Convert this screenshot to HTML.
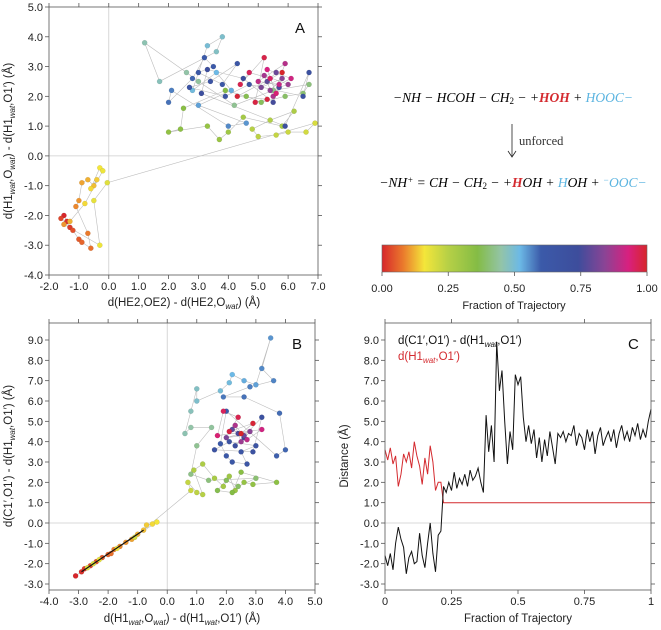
<!DOCTYPE html>
<html><head><meta charset="utf-8"><style>
body{margin:0;background:#fff}
svg{display:block;font-family:"Liberation Sans",sans-serif}
.eq{font-family:"Liberation Serif",serif;font-style:italic;font-size:13.5px}
</style></head><body>
<svg id="fig" width="661" height="630" viewBox="0 0 661 630">
<defs>
<linearGradient id="cmap" x1="0" x2="1" y1="0" y2="0">
<stop offset="0" stop-color="#d7262b"/><stop offset="0.08" stop-color="#ea7a2c"/><stop offset="0.16" stop-color="#f4e63a"/><stop offset="0.25" stop-color="#b6d046"/><stop offset="0.36" stop-color="#84bc45"/><stop offset="0.45" stop-color="#93c4a8"/><stop offset="0.52" stop-color="#6cb9e6"/><stop offset="0.6" stop-color="#3b5aa9"/><stop offset="0.74" stop-color="#3d4d9c"/><stop offset="0.84" stop-color="#8a4495"/><stop offset="0.93" stop-color="#d8207f"/><stop offset="1" stop-color="#d7262b"/>
</linearGradient>
</defs>
<g id="pa"></g>
<g id="pb"></g>
<g id="pc"></g>
<g>
<text class="eq" x="513" y="102" text-anchor="middle">−NH − HCOH − CH<tspan font-style="normal" font-size="9" dy="2">2</tspan><tspan dy="-2"> − +</tspan><tspan fill="#d42a2f" font-weight="bold">HOH</tspan> + <tspan fill="#5bb4e0">HOOC−</tspan></text>
<line x1="512" y1="124" x2="512" y2="156" stroke="#222" stroke-width="0.8"/>
<path d="M508,151 L512,157 L516,151" fill="none" stroke="#222" stroke-width="0.8"/>
<text x="519" y="145" font-family="Liberation Serif,serif" font-size="12.5" fill="#333">unforced</text>
<text class="eq" x="513" y="187" text-anchor="middle">−NH<tspan font-size="9" dy="-4">+</tspan><tspan dy="4"> = CH − CH</tspan><tspan font-style="normal" font-size="9" dy="2">2</tspan><tspan dy="-2"> − +</tspan><tspan fill="#d42a2f" font-weight="bold">H</tspan>OH + <tspan fill="#5bb4e0">H</tspan>OH + <tspan fill="#5bb4e0"><tspan font-size="9" dy="-4">−</tspan><tspan dy="4">OOC−</tspan></tspan></text>
</g>
<g>
<rect x="382" y="245" width="265" height="27" fill="url(#cmap)" stroke="#666" stroke-width="0.6"/>
<g id="cbt"></g>
<text x="514" y="309" text-anchor="middle" font-size="11" fill="#222">Fraction of Trajectory</text>
</g>
</svg>
<script>
// ---------- data ----------
const aX=[-1.5,-1.4,-1.3,-1.6,-1.2,-1.0,-0.9,-0.6,-0.7,-1.1,-1.0,-0.9,-0.7,-0.5,-0.4,-0.6,-0.3,-0.2,-0.8,-1.3,-1.5,-0.3,-0.5,-0.05,
6.9,6.6,6.0,5.6,5.0,4.8,5.4,6.2,5.8,4.5,4.0,3.7,3.3,2.0,2.4,2.5,3.9,4.6,5.1,5.9,6.5,6.7,5.5,4.2,3.0,2.6,1.2,1.7,3.6,3.8,3.3,2.8,3.6,4.1,3.0,4.6,4.0,
2.1,2.0,2.8,3.2,3.5,3.0,3.8,4.3,3.4,2.7,3.9,4.7,6.5,6.7,5.9,3.1,3.3,4.5,5.5,5.7,
5.3,5.6,5.1,5.8,5.4,6.0,5.2,5.5,5.9,5.0,5.7,6.1,5.3,5.6,5.4,4.7,4.4,5.2,4.9,5.3,4.3,5.8];
const aY=[-2.0,-2.2,-2.4,-2.1,-2.5,-2.8,-2.9,-3.1,-2.6,-1.7,-1.5,-0.9,-0.8,-1.0,-0.8,-1.1,-0.4,-0.5,-1.6,-2.2,-2.3,-3.0,-1.5,-0.9,
1.1,0.8,0.8,0.7,0.65,0.9,1.2,1.5,1.0,1.3,0.8,0.55,1.0,0.8,0.9,1.6,2.2,2.0,1.8,2.0,2.1,2.4,2.2,1.7,2.5,2.8,3.8,2.5,3.5,4.0,3.7,2.2,2.8,2.2,1.7,1.1,1.0,
2.2,1.8,2.6,3.3,3.0,2.8,2.4,3.1,2.5,2.3,2.0,2.4,2.0,2.8,1.0,2.1,2.9,2.6,1.8,2.3,
2.5,2.8,2.3,2.6,2.2,2.4,2.7,2.0,3.1,2.5,2.4,2.6,2.9,2.1,2.6,2.8,2.4,3.3,1.8,1.9,2.0,2.8];
const aT=[0,.01,.02,.03,.04,.05,.06,.07,.08,.09,.10,.11,.12,.13,.14,.15,.16,.17,.15,.12,.10,.17,.18,.19,
.2,.21,.22,.23,.24,.25,.26,.27,.28,.29,.3,.31,.32,.33,.34,.35,.36,.37,.38,.39,.40,.41,.42,.43,.44,.45,.46,.47,.48,.49,.5,.51,.52,.53,.54,.55,.56,
.57,.58,.59,.6,.61,.62,.63,.64,.65,.66,.67,.68,.69,.7,.71,.72,.73,.74,.75,.76,
.78,.8,.82,.84,.85,.86,.87,.88,.89,.9,.91,.92,.93,.94,.95,.96,.97,.975,.98,.985,.99,1.0];

const bX=[-3.1,-2.9,-2.8,-2.6,-2.4,-2.2,-2.0,-1.9,-1.8,-1.6,-1.4,-1.2,-1.0,-0.8,-0.7,-0.5,-0.35,-1.7,-2.3,-2.7,-2.5,-1.1,
0.8,0.7,1.0,1.2,0.9,1.2,1.6,1.9,2.1,2.3,2.6,2.9,3.7,2.5,2.2,1.7,2.0,2.4,3.0,1.4,0.8,
1.0,1.5,0.8,0.6,0.8,1.0,1.0,1.8,2.1,2.2,2.6,3.0,3.5,3.2,3.6,2.8,1.9,2.6,3.8,4.0,3.7,2.0,
1.8,2.0,2.2,2.7,2.5,3.0,2.1,1.6,2.9,3.2,2.3,2.6,
2.4,2.2,2.6,2.0,2.8,2.5,2.3,2.7,3.2,1.7,1.9,2.4,2.1,2.9,2.5];
const bY=[-2.6,-2.4,-2.25,-2.1,-1.9,-1.7,-1.55,-1.5,-1.3,-1.15,-0.95,-0.8,-0.55,-0.35,-0.1,-0.05,0.05,-1.25,-1.8,-2.2,-2.0,-0.7,
1.6,2.0,1.5,1.4,2.6,2.9,2.2,1.8,2.3,1.6,2.0,1.9,2.0,2.5,1.5,1.6,2.1,1.8,2.2,2.1,2.4,
3.8,4.7,4.7,4.4,5.5,6.6,6.0,6.5,6.9,7.3,7.0,6.8,9.1,7.6,7.0,6.7,6.2,6.2,5.4,3.6,3.3,5.5,
3.9,3.3,3.0,2.9,3.5,3.8,4.0,3.6,3.5,5.2,3.8,4.2,
4.4,4.6,4.3,4.2,4.5,4.0,4.8,4.1,4.6,4.3,5.5,5.2,4.5,4.9,4.4];
const bT=[0,.01,.02,.03,.04,.05,.06,.07,.08,.09,.1,.11,.12,.13,.14,.15,.16,.17,.18,.19,.2,.21,
.22,.23,.24,.25,.26,.27,.28,.29,.3,.31,.32,.33,.34,.35,.36,.37,.38,.39,.4,.41,.42,
.43,.44,.45,.46,.47,.48,.49,.5,.51,.52,.53,.54,.55,.56,.565,.57,.575,.58,.585,.59,.595,.6,
.61,.62,.63,.64,.65,.66,.67,.68,.69,.7,.72,.74,
.76,.78,.8,.82,.84,.86,.88,.9,.92,.94,.96,.97,.98,.99,1.0];

const cBlack=[-1.6,-2.1,-1.5,-2.3,-1.0,-0.2,-0.8,-1.2,-2.5,-1.7,-1.4,-2.0,-1.9,-0.5,-1.6,-2.2,-1.0,0.0,-1.5,-2.4,-0.6,-0.4,1.8,1.5,2.0,1.6,2.5,1.7,2.2,1.9,2.4,1.8,2.6,2.1,2.3,2.7,2.0,1.5,5.3,3.5,4.8,3.0,8.9,6.5,7.5,5.0,2.9,4.5,3.6,7.3,6.8,7.2,5.2,4.0,4.8,3.9,4.6,3.2,4.2,3.0,4.1,3.3,4.5,3.7,2.9,4.4,4.2,4.5,4.0,4.4,4.3,4.8,3.8,4.4,4.2,3.6,4.6,4.0,4.5,3.4,4.3,4.7,3.8,4.2,4.5,4.0,4.6,3.7,4.4,4.8,4.1,4.5,4.0,4.7,4.3,4.9,4.1,4.6,4.2,5.0,5.6];
const cRed=[3.6,3.1,3.7,2.9,3.3,1.8,2.4,3.4,3.0,3.5,2.7,4.0,3.3,2.8,1.9,3.2,2.4,3.8,3.0,1.6,2.0,2.0,1.0,1.0,1.0,1.0,1.0,1.0,1.0,1.0,1.0,1.0,1.0,1.0,1.0,1.0,1.0,1.0,1.0,1.0,1.0,1.0,1.0,1.0,1.0,1.0,1.0,1.0,1.0,1.0,1.0,1.0,1.0,1.0,1.0,1.0,1.0,1.0,1.0,1.0,1.0,1.0,1.0,1.0,1.0,1.0,1.0,1.0,1.0,1.0,1.0,1.0,1.0,1.0,1.0,1.0,1.0,1.0,1.0,1.0,1.0,1.0,1.0,1.0,1.0,1.0,1.0,1.0,1.0,1.0,1.0,1.0,1.0,1.0,1.0,1.0,1.0,1.0,1.0,1.0,1.0];
const cbTicks=["0.00","0.25","0.50","0.75","1.00"];
const aXTicks=["-2.0","-1.0","0.0","1.0","2.0","3.0","4.0","5.0","6.0","7.0"];
const aYTicks=["-4.0","-3.0","-2.0","-1.0","0.0","1.0","2.0","3.0","4.0","5.0"];
const bXTicks=["-4.0","-3.0","-2.0","-1.0","0.0","1.0","2.0","3.0","4.0","5.0"];
const bYTicks=["-3.0","-2.0","-1.0","0.0","1.0","2.0","3.0","4.0","5.0","6.0","7.0","8.0","9.0"];
const cXTicks=["0","0.25","0.5","0.75","1"];

// ---------- helpers ----------
const NS="http://www.w3.org/2000/svg";
function mk(tag,attrs,parent){const e=document.createElementNS(NS,tag);for(const k in attrs)e.setAttribute(k,attrs[k]);parent.appendChild(e);return e;}
const stops=[[0,[215,38,43]],[0.08,[234,122,44]],[0.16,[244,230,58]],[0.25,[182,208,70]],[0.36,[132,188,69]],[0.45,[147,196,168]],[0.52,[108,185,230]],[0.6,[59,90,169]],[0.74,[61,77,156]],[0.84,[138,68,149]],[0.93,[216,32,127]],[1,[215,38,43]]];
function cmap(t){for(let i=1;i<stops.length;i++){if(t<=stops[i][0]){const a=stops[i-1],b=stops[i],f=(t-a[0])/(b[0]-a[0]);const c=a[1].map((v,j)=>Math.round(v+(b[1][j]-v)*f));return `rgb(${c})`;}}return "rgb(215,38,43)";}
function scale(d0,d1,r0,r1){return v=>r0+(v-d0)/(d1-d0)*(r1-r0);}

function axes(g,X,Y,box,xt,yt,xv,yv,name){
  const f=mk('rect',{x:box.l,y:box.t,width:box.r-box.l,height:box.b-box.t,fill:'none',stroke:'#555','stroke-width':0.8},g);
  
  
  xv.forEach((v,i)=>{const x=X(v);
    mk('line',{x1:x,x2:x,y1:box.b,y2:box.b+4,stroke:'#555','stroke-width':0.8},g);
    mk('line',{x1:x,x2:x,y1:box.t,y2:box.t-4,stroke:'#555','stroke-width':0.8},g);
    const t=mk('text',{x:x,y:box.b+15,'text-anchor':'middle','font-size':11,fill:'#222'},g);t.textContent=xt[i];
    
    });
  yv.forEach((v,i)=>{const y=Y(v);
    mk('line',{x1:box.l-4,x2:box.l,y1:y,y2:y,stroke:'#555','stroke-width':0.8},g);
    mk('line',{x1:box.r,x2:box.r+4,y1:y,y2:y,stroke:'#555','stroke-width':0.8},g);
    const t=mk('text',{x:box.l-6,y:y+4,'text-anchor':'end','font-size':11,fill:'#222'},g);t.textContent=yt[i];
    
    });
}
function zeroLines(g,X,Y,box,vx){
  if(vx) mk('line',{x1:X(0),x2:X(0),y1:box.t,y2:box.b,stroke:'#ccc','stroke-width':0.8},g);
  mk('line',{x1:box.l,x2:box.r,y1:Y(0),y2:Y(0),stroke:'#ccc','stroke-width':0.8},g);
}
function scatter(g,xs,ys,ts,X,Y,name){
  let d='';xs.forEach((v,i)=>{d+=(i?'L':'M')+X(v).toFixed(1)+','+Y(ys[i]).toFixed(1);});
  const p=mk('path',{d:d,fill:'none',stroke:'#bdbdbd','stroke-width':0.6},g);
  
  
  xs.forEach((v,i)=>{const c=mk('circle',{cx:X(v),cy:Y(ys[i]),r:2.6,fill:cmap(ts[i]),stroke:'rgba(0,0,0,0.15)','stroke-width':0.4},g);
    
    });
}
function label(g,x,y,html,rot,name){
  const t=mk('text',{x:x,y:y,'text-anchor':'middle','font-size':11.5,fill:'#222'},g);
  if(rot) t.setAttribute('transform',`rotate(-90 ${x} ${y})`);
  t.innerHTML=html;
  
  
}
const sub=s=>`<tspan font-size="8" font-style="italic" dy="3">${s}</tspan><tspan dy="-3">`;

// ---------- panel A ----------
{const g=document.getElementById('pa');const box={l:49,r:318,t:7,b:275};
 const X=scale(-2,7,49,318),Y=scale(-4,5,275,7);
 zeroLines(g,X,Y,box,true);
 scatter(g,aX,aY,aT,X,Y,'panel-a');
 axes(g,X,Y,box,aXTicks,aYTicks,aXTicks.map(Number),aYTicks.map(Number),'panel-a');
 label(g,184,306,`d(HE2,OE2) - d(HE2,O${sub('wat')})</tspan> (Å)`,false,'panel-a-x-axis-title');
 label(g,12,141,`d(H1${sub('wat')},O${sub('wat')})</tspan></tspan> - d(H1${sub('wat')},O1′)</tspan> (Å)`,true,'panel-a-y-axis-title');
 const l=mk('text',{x:295,y:33,'font-size':15,fill:'#111'},g);l.textContent='A';
 
 }
// ---------- panel B ----------
{const g=document.getElementById('pb');const box={l:49,r:315,t:323,b:590};
 const X=scale(-4,5,49,315),Y=scale(-3,9,584,340);
 zeroLines(g,X,Y,box,true);
 scatter(g,bX,bY,bT,X,Y,'panel-b');
 const bl=mk('line',{x1:X(bX[1]),y1:Y(bY[1]),x2:X(bX[13]),y2:Y(bY[13]),stroke:'#111','stroke-width':1.2},g);
 
 
 axes(g,X,Y,box,bXTicks,bYTicks,bXTicks.map(Number),bYTicks.map(Number),'panel-b');
 label(g,182,622,`d(H1${sub('wat')},O${sub('wat')})</tspan></tspan> - d(H1${sub('wat')},O1′)</tspan> (Å)`,false,'panel-b-x-axis-title');
 label(g,12,456,`d(C1′,O1′) - d(H1${sub('wat')},O1′)</tspan> (Å)`,true,'panel-b-y-axis-title');
 const l=mk('text',{x:292,y:349,'font-size':15,fill:'#111'},g);l.textContent='B';
 
 }
// ---------- panel C ----------
{const g=document.getElementById('pc');const box={l:385,r:651,t:323,b:590};
 const X=scale(0,1,385,651),Y=scale(-3,9,584,340);
 zeroLines(g,X,Y,box,false);
 const n=cBlack.length-1;
 let d='';cRed.forEach((v,i)=>{d+=(i?'L':'M')+X(i/n).toFixed(1)+','+Y(v).toFixed(1);});
 const r=mk('path',{d:d,fill:'none',stroke:'#d42a2f','stroke-width':1},g);
 
 
 d='';cBlack.forEach((v,i)=>{d+=(i?'L':'M')+X(i/n).toFixed(1)+','+Y(v).toFixed(1);});
 const b=mk('path',{d:d,fill:'none',stroke:'#111','stroke-width':1},g);
 
 
 axes(g,X,Y,box,cXTicks,bYTicks,cXTicks.map(Number),bYTicks.map(Number),'panel-c');
 label(g,518,622,'Fraction of Trajectory',false,'panel-c-x-axis-title');
 label(g,348,456,'Distance (Å)',true,'panel-c-y-axis-title');
 const t1=mk('text',{x:398,y:344,'font-size':11.5,fill:'#111'},g);t1.innerHTML=`d(C1′,O1′) - d(H1${sub('wat')},O1′)</tspan>`;
 
 
 const t2=mk('text',{x:398,y:360,'font-size':11.5,fill:'#d42a2f'},g);t2.innerHTML=`d(H1${sub('wat')},O1′)</tspan>`;
 
 
 const l=mk('text',{x:628,y:349,'font-size':15,fill:'#111'},g);l.textContent='C';
 
 }
// ---------- colorbar ticks ----------
{const g=document.getElementById('cbt');const X=scale(0,1,382,647);
 cbTicks.forEach(s=>{const x=X(Number(s));
  mk('line',{x1:x,x2:x,y1:272,y2:276,stroke:'#555','stroke-width':0.8},g);
  const t=mk('text',{x:x,y:292,'text-anchor':'middle','font-size':11,fill:'#222'},g);t.textContent=s;
  
  });}
</script>
</body></html>
